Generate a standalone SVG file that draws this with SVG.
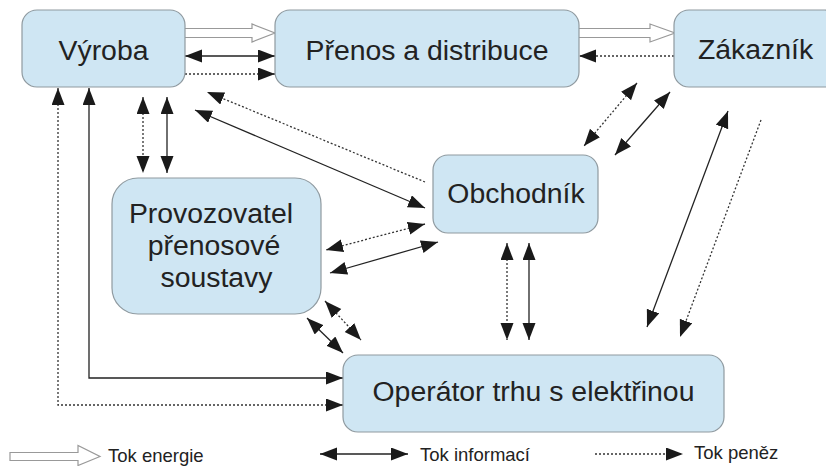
<svg xmlns="http://www.w3.org/2000/svg" width="826" height="466" viewBox="0 0 826 466">
  <style>
    .box { fill: #cfe6f3; stroke: #8f9aa0; stroke-width: 1.2; }
    .lbl { font-family: "Liberation Sans", Arial, sans-serif; font-size: 28.4px; fill: #222; text-anchor: middle; }
    .leg { font-family: "Liberation Sans", Arial, sans-serif; font-size: 18.5px; fill: #222; }
    .info { fill: none; stroke: #222; stroke-width: 1.3; }
    .money { fill: none; stroke: #333; stroke-width: 1.3; stroke-dasharray: 2 2; }
    .energy { fill: #fff; stroke: #999; stroke-width: 1.2; }
  </style>
  <defs>
    <marker id="head" markerUnits="userSpaceOnUse" markerWidth="18" markerHeight="14" refX="17" refY="6.5" orient="auto-start-reverse">
      <path d="M0,0 L17,6.5 L0,13 z" fill="#1a1a1a"/>
    </marker>
  </defs>

  <rect width="826" height="466" fill="#fff"/>

  <!-- connectors -->
  <g id="connectors">
    <!-- energy flow -->
    <path class="energy" d="M185,28.5 H252 V24 L275,33 L252,42 V37.5 H185"/>
    <path class="energy" d="M579,28.5 H650 V24 L675,33 L650,42 V37.5 H579"/>

    <!-- information flow (double-headed) -->
    <line class="info" x1="185" y1="56" x2="275" y2="56" marker-start="url(#head)" marker-end="url(#head)"/>
    <line class="info" x1="167" y1="97" x2="167" y2="173" marker-start="url(#head)" marker-end="url(#head)"/>
    <line class="info" x1="195" y1="110" x2="425" y2="208" marker-start="url(#head)" marker-end="url(#head)"/>
    <line class="info" x1="438" y1="242" x2="330" y2="273" marker-start="url(#head)" marker-end="url(#head)"/>
    <line class="info" x1="529" y1="243" x2="529" y2="340" marker-start="url(#head)" marker-end="url(#head)"/>
    <line class="info" x1="307" y1="318" x2="343" y2="353" marker-start="url(#head)" marker-end="url(#head)"/>
    <line class="info" x1="670" y1="92" x2="615" y2="155" marker-start="url(#head)" marker-end="url(#head)"/>
    <line class="info" x1="728" y1="111" x2="647" y2="327" marker-start="url(#head)" marker-end="url(#head)"/>
    <path class="info" d="M89,88 V378 H343" marker-start="url(#head)" marker-end="url(#head)"/>

    <!-- money flow -->
    <line class="money" x1="185" y1="74" x2="275" y2="74" marker-end="url(#head)"/>
    <line class="money" x1="674" y1="56" x2="579" y2="56" marker-end="url(#head)"/>
    <line class="money" x1="143" y1="97" x2="143" y2="173" marker-start="url(#head)" marker-end="url(#head)"/>
    <line class="money" x1="425" y1="182" x2="207" y2="92" marker-end="url(#head)"/>
    <line class="money" x1="425" y1="224" x2="326" y2="250" marker-start="url(#head)" marker-end="url(#head)"/>
    <line class="money" x1="507" y1="243" x2="507" y2="340" marker-start="url(#head)" marker-end="url(#head)"/>
    <line class="money" x1="325" y1="301" x2="361" y2="340" marker-start="url(#head)" marker-end="url(#head)"/>
    <line class="money" x1="637" y1="83" x2="584" y2="146" marker-start="url(#head)" marker-end="url(#head)"/>
    <line class="money" x1="761" y1="120" x2="680" y2="337" marker-end="url(#head)"/>
    <path class="money" d="M58,88 V405 H343" marker-start="url(#head)" marker-end="url(#head)"/>
  </g>

  <!-- nodes -->
  <g id="vyroba">
    <rect class="box" x="22" y="10" width="163" height="77" rx="15"/>
    <text class="lbl" x="103.5" y="60">Výroba</text>
  </g>
  <g id="prenos">
    <rect class="box" x="275" y="10" width="304" height="77" rx="15"/>
    <text class="lbl" x="427" y="59.5">Přenos a distribuce</text>
  </g>
  <g id="zakaznik">
    <rect class="box" x="674" y="10" width="166" height="77" rx="15"/>
    <text class="lbl" x="755.5" y="58.5">Zákazník</text>
  </g>
  <g id="obchodnik">
    <rect class="box" x="433" y="155" width="165" height="78" rx="15"/>
    <text class="lbl" x="516" y="203">Obchodník</text>
  </g>
  <g id="provozovatel">
    <rect class="box" x="112" y="178" width="209" height="136" rx="26"/>
    <text class="lbl" x="211" y="223">Provozovatel</text>
    <text class="lbl" x="214" y="255">přenosové</text>
    <text class="lbl" x="216.5" y="287">soustavy</text>
  </g>
  <g id="operator">
    <rect class="box" x="343" y="355" width="381" height="77" rx="15"/>
    <text class="lbl" x="533.5" y="401">Operátor trhu s elektřinou</text>
  </g>

  <!-- legend -->
  <g id="legend">
    <path class="energy" d="M10,452.5 H78 V445.5 L100,456.5 L78,465.5 V460.5 H10 z"/>
    <text class="leg" x="108" y="462">Tok energie</text>
    <line class="info" x1="320" y1="454" x2="408" y2="454" marker-start="url(#head)" marker-end="url(#head)"/>
    <text class="leg" x="420" y="461">Tok informací</text>
    <line class="money" x1="595" y1="454" x2="683" y2="454" marker-end="url(#head)"/>
    <text class="leg" x="694" y="459">Tok peněz</text>
  </g>
</svg>
